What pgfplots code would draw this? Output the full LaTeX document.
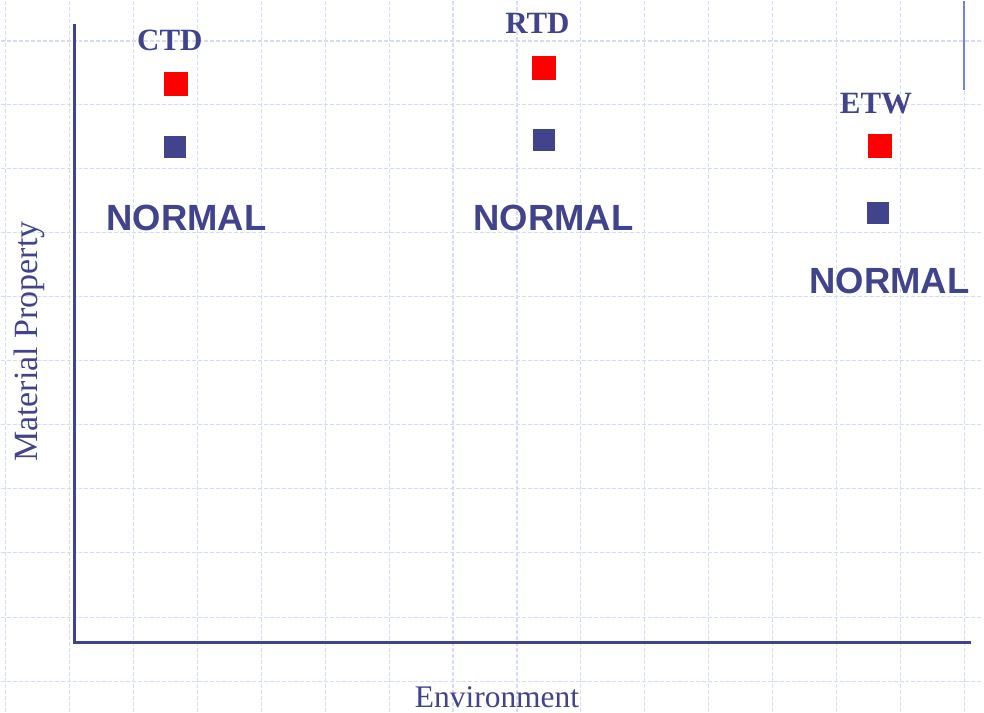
\documentclass[border=0pt]{standalone}
\usepackage{pgfplots}
\pgfplotsset{compat=1.18}
\usepackage{fontspec}
\setmainfont{Liberation Serif}
\newfontfamily\arialfont{Liberation Sans}
\definecolor{navy}{RGB}{65,68,140}
\definecolor{gridblue}{RGB}{212,220,250}
\definecolor{lineblue}{RGB}{112,130,240}
\begin{document}
\begin{tikzpicture}
\begin{axis}[
  width=984pt, height=712pt, scale only axis,
  xmin=0, xmax=984, ymin=0, ymax=712,
  hide axis, clip=false,
]
\path (axis cs:0,0) rectangle (axis cs:984,712);
% background grid
\pgfplotsinvokeforeach{5,69,133,197,261,325,389,453,517,581,645,709,773,837,901,965}{
  \draw[gridblue, line width=1.2pt, dash pattern=on 4pt off 2pt] (axis cs:#1,0) -- (axis cs:#1,712);
}
\pgfplotsinvokeforeach{672,608,544,480,416,352,288,224,160,95,31}{
  \draw[gridblue, line width=1.2pt, dash pattern=on 4pt off 2pt] (axis cs:0,#1) -- (axis cs:984,#1);
}
% L-shaped axes
\draw[navy, line width=3.2pt] (axis cs:74,689) -- (axis cs:74,70) -- (axis cs:972,70);
\draw[lineblue, line width=2pt] (axis cs:965,712) -- (axis cs:965,623);
% data
\addplot[only marks, color=red, mark=square*, mark size=11.5pt, mark options={draw=red, fill=red, line width=0pt}]
  coordinates {(176,628.7) (544,644.5) (880,566.7)};
\addplot[only marks, color=navy, mark=square*, mark size=10.5pt, mark options={draw=navy, fill=navy, line width=0pt}]
  coordinates {(174.5,565.7) (544.2,573.2) (878.8,499.8)};
% labels
\node[navy, anchor=base, font=\fontsize{31}{36}\selectfont\bfseries] at (axis cs:169.5,662) {CTD};
\node[navy, anchor=base, font=\fontsize{31}{36}\selectfont\bfseries] at (axis cs:537.5,679) {RTD};
\node[navy, anchor=base, font=\fontsize{31}{36}\selectfont\bfseries] at (axis cs:876.5,599) {ETW};
\node[navy, anchor=base, font=\fontsize{36.5}{40}\arialfont\bfseries] at (axis cs:186,482) {NORMAL};
\node[navy, anchor=base, font=\fontsize{36.5}{40}\arialfont\bfseries] at (axis cs:553.5,482) {NORMAL};
\node[navy, anchor=base, font=\fontsize{36.5}{40}\arialfont\bfseries] at (axis cs:890,419) {NORMAL};
\node[navy, anchor=base, font=\fontsize{31.5}{36}\selectfont] at (axis cs:497,5) {Environment};
\node[navy, anchor=base, rotate=90, font=\fontsize{34}{38}\selectfont] at (axis cs:37,371) {Material Property};
\end{axis}
\end{tikzpicture}
\end{document}
